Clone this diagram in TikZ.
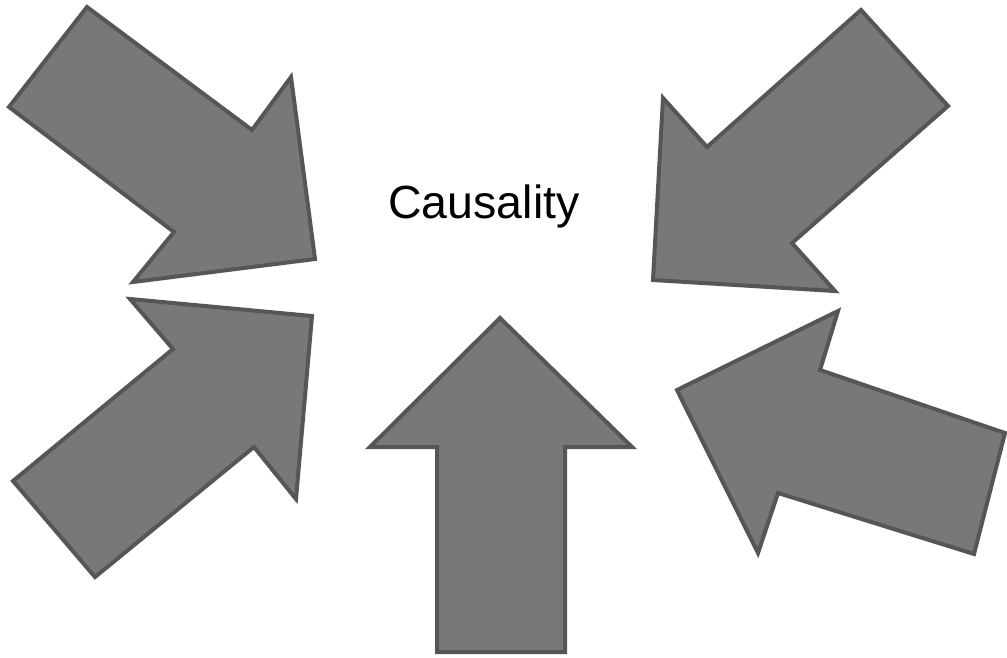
\documentclass[tikz,border=0pt]{standalone}
\usepackage{fontspec}
\setmainfont{Liberation Sans}
\definecolor{arrowfill}{HTML}{787878}
\definecolor{arrowline}{HTML}{565656}
\begin{document}
\begin{tikzpicture}[x=1pt,y=-1pt,
  bigarrow/.style={fill=arrowfill,draw=arrowline,line width=4pt,line join=miter}]
\useasboundingbox (0,0) rectangle (1007,657);
\fill[white] (0,0) rectangle (1007,657);
% top-left
\draw[bigarrow] (87,7) -- (252,130) -- (291,77) -- (315,259) -- (133,282) -- (174,232) -- (9,107) -- cycle;
% bottom-left
\draw[bigarrow] (130,299) -- (312,316) -- (296,499) -- (254,447) -- (95,577) -- (13,481) -- (173,349) -- cycle;
% bottom centre
\draw[bigarrow] (500,318) -- (632,447) -- (565,447) -- (565,652) -- (437,652) -- (437,447) -- (370,447) -- cycle;
% top-right
\draw[bigarrow] (861,10) -- (948,106) -- (792,243) -- (835,291) -- (653,280) -- (663,98) -- (707,147) -- cycle;
% bottom-right
\draw[bigarrow] (838,311) -- (677,390) -- (758,553) -- (778,493) -- (974,554) -- (1005,433) -- (820,370) -- cycle;
\node[anchor=base,inner sep=0pt,font=\fontsize{46.5}{50}\selectfont] (title) at (484,218) {Causality};
\end{tikzpicture}
\end{document}
